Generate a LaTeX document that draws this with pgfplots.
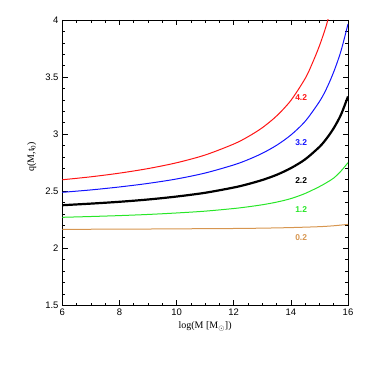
\documentclass[border=0pt]{standalone}
\usepackage{fontspec}
\setmainfont{Liberation Sans}
\newfontfamily\seriffont{Liberation Serif}
\usepackage{pgfplots}
\pgfplotsset{compat=1.18}
\definecolor{cred}{RGB}{255,20,20}
\definecolor{cblue}{RGB}{20,20,255}
\definecolor{cgreen}{RGB}{40,230,40}
\definecolor{corange}{RGB}{215,150,80}
\begin{document}
\begin{tikzpicture}[x=1bp,y=1bp]
\useasboundingbox (0,0) rectangle (367,367);
\begin{axis}[
  at={(62.3bp,61.7bp)}, anchor=south west,
  scale only axis, width=285.7bp, height=285.3bp,
  xmin=6, xmax=16, ymin=1.5, ymax=4,
  xtick={6,8,...,16}, ytick={1.5,2,2.5,3,3.5,4},
  minor x tick num=3, minor y tick num=4,
  tick pos=both, tick align=inside,
  major tick length=5.3bp, minor tick length=2.7bp,
  axis line style={line width=0.8bp},
  every tick/.style={line width=0.6bp, black},
  /pgf/number format/assume math mode=true,
  tick label style={font=\fontsize{9.5}{10}\selectfont},
  yticklabel style={xshift=-0.3bp},
  xticklabel style={yshift=-0.3bp},
  xlabel={\seriffont log(M [M$_\odot$])},
  ylabel={\seriffont q(M,t\textsubscript{0})},
  label style={font=\fontsize{10}{11}\selectfont},
  xlabel style={at={(axis description cs:0.5,-0.075)}, anchor=center},
  ylabel style={at={(axis description cs:-0.107,0.521)}, anchor=center, rotate=0},
  clip=true,
]
% z = 4.2
\addplot[cred, line width=1bp, smooth] coordinates {
(6,2.600) (7,2.626) (8,2.658) (9,2.698) (10,2.749) (11,2.817) (12,2.913)
(12.5,2.977) (13,3.056) (13.5,3.159) (14,3.295) (14.5,3.487) (14.75,3.62)
(15,3.774) (15.25,3.96) (15.5,4.2)};
% z = 3.2
\addplot[cblue, line width=1bp, smooth] coordinates {
(6,2.490) (7,2.511) (8,2.537) (9,2.568) (10,2.607) (11,2.659) (12,2.730)
(12.5,2.776) (13,2.832) (13.5,2.902) (14,2.992) (14.5,3.112) (15,3.285)
(15.25,3.40) (15.5,3.545) (15.75,3.725) (16,3.965)};
% z = 2.2
\addplot[black, line width=2.2bp, smooth] coordinates {
(6,2.377) (7,2.391) (8,2.407) (9,2.427) (10,2.453) (11,2.486) (12,2.532)
(12.5,2.562) (13,2.598) (13.5,2.643) (14,2.702) (14.5,2.779) (15,2.888)
(15.25,2.961) (15.5,3.052) (15.75,3.168) (16,3.330)};
% z = 1.2
\addplot[cgreen, line width=1bp, smooth] coordinates {
(6,2.271) (7,2.278) (8,2.286) (9,2.296) (10,2.309) (11,2.325) (12,2.348)
(12.5,2.363) (13,2.381) (13.5,2.404) (14,2.435) (14.5,2.48) (15,2.54)
(15.25,2.575) (15.5,2.615) (15.75,2.675) (16,2.75)};
% z = 0.2
\addplot[corange, line width=1bp, smooth] coordinates {
(6,2.166) (8,2.167) (10,2.170) (12,2.173) (13,2.176) (14,2.181) (15,2.189)
(15.5,2.197) (16,2.209)};
\node[text=cred, font=\fontsize{8.5}{10}\selectfont\bfseries] at (axis cs:14.36,3.319) {4.2};
\node[text=cblue, font=\fontsize{8.5}{10}\selectfont\bfseries] at (axis cs:14.36,2.922) {3.2};
\node[text=black, font=\fontsize{8.5}{10}\selectfont\bfseries] at (axis cs:14.36,2.592) {2.2};
\node[text=cgreen, font=\fontsize{8.5}{10}\selectfont\bfseries] at (axis cs:14.36,2.341) {1.2};
\node[text=corange, font=\fontsize{8.5}{10}\selectfont\bfseries] at (axis cs:14.36,2.089) {0.2};
\end{axis}
\end{tikzpicture}
\end{document}
